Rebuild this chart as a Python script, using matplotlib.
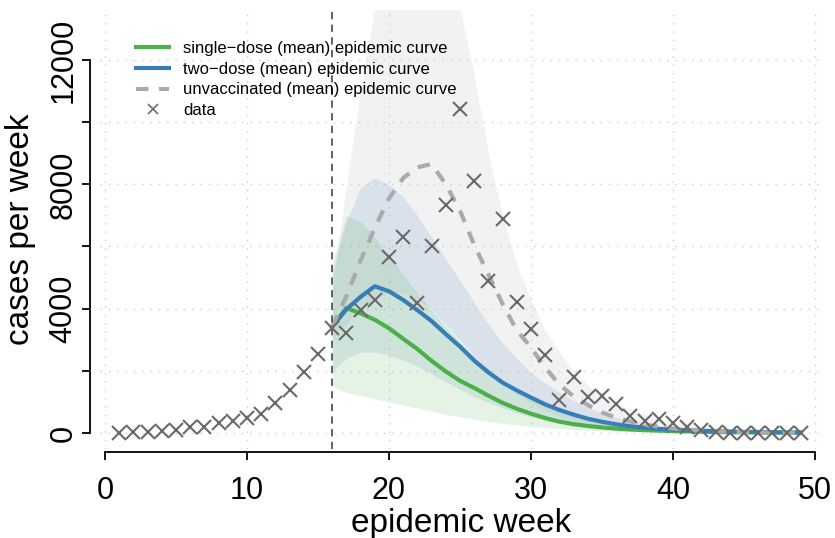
import numpy as np
import matplotlib.pyplot as plt
from matplotlib.lines import Line2D

plt.rcParams['font.family'] = ['Liberation Sans', 'DejaVu Sans']

# observed weekly cases
weeks = list(range(1, 50))
cases = [0, 40, 40, 75, 95, 200, 200, 310, 400, 490, 600, 980, 1380, 1970, 2540,
         3370, 3230, 3950, 4280, 5670, 6320, 4170, 6000, 7330, 10410, 8120, 4900,
         6870, 4220, 3360, 2500, 1060, 1810, 1170, 1200, 920, 540, 400, 440, 310,
         200, 95, 40, 10, 5, 5, 0, 5, 0]

# simulated weeks (after intervention at week 16)
sim_weeks = list(range(16, 50))

# mean epidemic curves
single_mean = [3420, 4020, 3850, 3640, 3370, 3030, 2700, 2320, 1980, 1680, 1450,
               1200, 970, 780, 620, 480, 365, 285, 225, 178, 140, 112, 92, 76,
               62, 50, 40, 32, 26, 21, 17, 14, 11, 9]
two_mean = [3420, 3980, 4380, 4720, 4560, 4280, 3950, 3600, 3180, 2780, 2330,
            1950, 1620, 1370, 1140, 920, 740, 590, 460, 360, 280, 215, 170, 132,
            108, 88, 72, 58, 47, 38, 31, 25, 20, 16]
unvac_mean = [3420, 4400, 5550, 6600, 7550, 8200, 8550, 8650, 8000, 7150, 6050,
              5100, 4150, 3300, 2750, 2100, 1560, 1180, 900, 660, 490, 370, 270,
              200, 145, 105, 78, 58, 43, 32, 24, 18, 13, 10]

# spread of the simulated trajectories (approximate envelopes)
unvac_hi = [4500, 8000, 11000, 13700, 15000, 15000, 15000, 15000, 15000, 13700,
            11500, 9000, 7000, 5400, 4300, 3300, 2600, 2000, 1550, 1250, 980,
            770, 600, 460, 350, 270, 200, 150, 110, 85, 65, 50, 38, 30]
unvac_lo = [3000, 3500, 4000, 4300, 4500, 4500, 4300, 4000, 3500, 3000, 2500,
            2000, 1600, 1250, 950, 720, 540, 400, 300, 220, 160, 120, 90, 65,
            50, 36, 26, 19, 14, 10, 7, 5, 4, 3]
two_hi = [5200, 6800, 7900, 8200, 8000, 7600, 7000, 6300, 5600, 4900, 4200,
          3500, 2900, 2400, 1950, 1600, 1300, 1050, 830, 650, 510, 400, 310,
          240, 185, 145, 110, 85, 65, 50, 38, 29, 22, 17]
two_lo = [2000, 2400, 2600, 2600, 2500, 2350, 2150, 1900, 1650, 1400, 1180,
          980, 800, 650, 520, 410, 320, 250, 195, 150, 115, 88, 67, 51, 39, 30,
          23, 17, 13, 10, 8, 6, 4, 3]
single_hi = [5500, 7000, 6800, 6300, 5700, 5100, 4500, 3950, 3400, 2900, 2450,
             2050, 1700, 1400, 1150, 930, 750, 600, 480, 380, 300, 235, 185,
             145, 115, 90, 70, 55, 43, 33, 26, 20, 16, 12]
single_lo = [1500, 1300, 1200, 1100, 1000, 900, 800, 700, 600, 520, 440, 370,
             310, 260, 215, 175, 140, 110, 88, 70, 55, 43, 33, 26, 20, 15, 12,
             9, 7, 5, 4, 3, 2, 2]

green = '#4DAF4A'
blue = '#377EB8'
grey = '#AAAAAA'

fig = plt.figure(figsize=(8.35, 5.38), dpi=100)
ax = fig.add_axes([100 / 835, 89 / 538, 722 / 835, 439 / 538])

# grid
for gx in range(0, 51, 10):
    ax.axvline(gx, color='#CCCCCC', lw=1, ls=(0, (1, 5)), zorder=0)
for gy in range(0, 12001, 2000):
    ax.axhline(gy, color='#CCCCCC', lw=1, ls=(0, (1, 5)), zorder=0)

# trajectory clouds
ax.fill_between(sim_weeks, unvac_lo, unvac_hi, color='#C8C8C8', alpha=0.22, lw=0, zorder=1)
ax.fill_between(sim_weeks, two_lo, two_hi, color=blue, alpha=0.13, lw=0, zorder=1)
ax.fill_between(sim_weeks, single_lo, single_hi, color=green, alpha=0.15, lw=0, zorder=1)

# mean curves
ax.plot(sim_weeks, single_mean, color=green, lw=3, zorder=3)
ax.plot(sim_weeks, two_mean, color=blue, lw=3, zorder=3)
ax.plot(sim_weeks, unvac_mean, color=grey, lw=3, ls=(0, (3, 2.5)), zorder=3)

ax.axvline(16, color='#555555', lw=1.3, ls=(0, (4, 3)), zorder=4)

ax.plot(weeks, cases, ls='none', marker='x', ms=10, mew=1.5, color='#6A6A6A', zorder=5)

ax.set_xlim(-0.35, 50.49)
ax.set_ylim(-515, 13608)

for s in ['top', 'right']:
    ax.spines[s].set_visible(False)
ax.spines['left'].set_position(('outward', 7))
ax.spines['bottom'].set_position(('outward', 2))
ax.spines['left'].set_bounds(0, 12000)
ax.spines['bottom'].set_bounds(0, 50)
ax.spines['left'].set_linewidth(1.3)
ax.spines['bottom'].set_linewidth(1.3)

ax.set_xticks(range(0, 51, 10))
ax.set_xticklabels([str(v) for v in range(0, 51, 10)], fontsize=22)
ax.set_yticks(range(0, 12001, 2000))
ax.set_yticklabels(['0', '', '4000', '', '8000', '', '12000'], fontsize=22,
                   rotation=90, va='center')
ax.tick_params(length=6, width=1.3)
ax.tick_params(axis='x', pad=11.5)
ax.tick_params(axis='y', pad=2.5)

ax.set_xlabel('epidemic week', fontsize=24)
ax.xaxis.set_label_coords(0.5, -0.188)
ax.xaxis.label.set_va('baseline')
ax.set_ylabel('cases per week', fontsize=24)
ax.yaxis.set_label_coords(-0.11, 0.5)
ax.yaxis.label.set_va('center')

handles = [Line2D([], [], color=green, lw=3),
           Line2D([], [], color=blue, lw=3),
           Line2D([], [], color=grey, lw=3, ls=(0, (3, 2.5))),
           Line2D([], [], color='#6A6A6A', ls='none', marker='x', ms=7, mew=1.2)]
labels = ['single\u2212dose (mean) epidemic curve',
          'two\u2212dose (mean) epidemic curve',
          'unvaccinated (mean) epidemic curve',
          'data']
ax.legend(handles, labels, loc='upper left', bbox_to_anchor=(0.05, 0.93),
          frameon=False, fontsize=12, handlelength=2.0, handletextpad=0.8,
          labelspacing=0.35, borderpad=0, borderaxespad=0)

fig.savefig('out.png', dpi=100)
